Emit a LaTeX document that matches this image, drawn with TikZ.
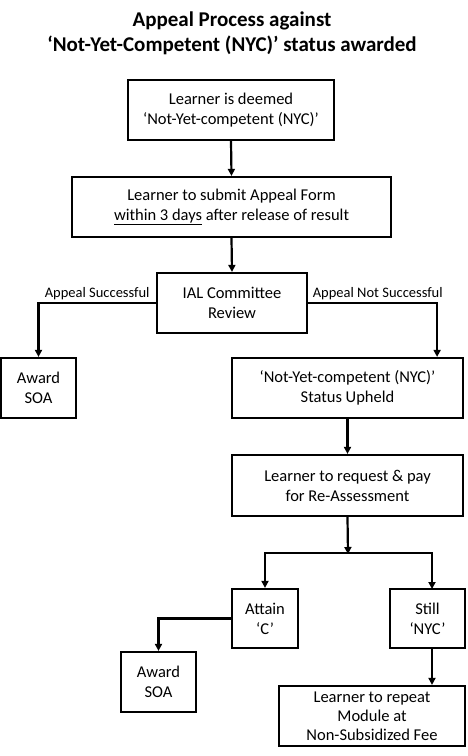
\documentclass[tikz,border=0pt]{standalone}
\usepackage{fontspec}
\setmainfont{Carlito}
\usepackage{tikz}
\usetikzlibrary{arrows.meta}

\begin{document}
\begin{tikzpicture}[x=1pt, y=-1pt,
    box/.style={draw, line width=2.2pt, align=center, inner sep=1pt,
      font=\fontsize{16.5}{20}\selectfont},
    flow/.style={line width=2.2pt, -{Triangle[length=7pt, width=7pt]}},
    lbl/.style={font=\fontsize{14.5}{17}\selectfont, inner sep=2pt}]
    \useasboundingbox (0,0) rectangle (467,756);

    % Title (two lines, bold)
    \node[align=center, font=\fontsize{21}{25}\bfseries\selectfont] (title) at (232,33)
      {Appeal Process against\\‘Not-Yet-Competent (NYC)’ status awarded};

    % Main column: boxes placed at their centres
    \node[box, minimum width=206, minimum height=60] (deemed) at (231,110)
      {Learner is deemed\\‘Not-Yet-competent (NYC)’};
    \node[box, minimum width=319, minimum height=60] (submit) at (231.5,207)
      {Learner to submit Appeal Form\\\underline{within 3 days} after release of result};
    \node[box, minimum width=150, minimum height=60] (review) at (232,303)
      {IAL Committee\\Review};

    % Outcome of the review
    \node[box, minimum width=75, minimum height=60] (soaA) at (38.5,388) {Award\\SOA};
    \node[box, minimum width=231, minimum height=60] (upheld) at (347.5,388)
      {‘Not-Yet-competent (NYC)’\\Status Upheld};
    \node[box, minimum width=231, minimum height=61] (reassess) at (347.5,485.5)
      {Learner to request \& pay\\for Re-Assessment};

    % Re-assessment results
    \node[box, minimum width=66, minimum height=59] (attain) at (265,618.5) {Attain\\‘C’};
    \node[box, minimum width=75, minimum height=59] (still) at (427.5,618.5) {Still\\‘NYC’};
    \node[box, minimum width=75, minimum height=60] (soaB) at (158.5,682) {Award\\SOA};
    \node[box, minimum width=186, minimum height=60, font=\fontsize{16.5}{19}\selectfont]
      (repeat) at (372,716) {Learner to repeat\\Module at\\Non-Subsidized Fee};

    \coordinate (split) at (348,553);
    \coordinate (stillin) at (432,589);
    \coordinate (stillout) at (432,648);

    % Connectors
    \draw[flow] (deemed.south) -- (submit.north);
    \draw[flow] (submit.south) -- (review.north);
    \draw[flow] (review.west) -| node[lbl, pos=0.25, above] {Appeal Successful} (soaA.north);
    \draw[flow] (review.east) -| node[lbl, pos=0.27, above] {Appeal Not Successful}
      ([xshift=-27pt]upheld.north east);
    \draw[flow] (upheld.south) -- (reassess.north);
    \draw[flow] (reassess.south) -- ([yshift=-1pt]split);
    \draw[flow] (split) -| (attain.north);
    \draw[flow] (split) -| (stillin);
    \draw[flow] (attain.west) -| (soaB.north);
    \draw[flow] (stillout) -- (stillout |- repeat.north);
  \end{tikzpicture}
\end{document}
